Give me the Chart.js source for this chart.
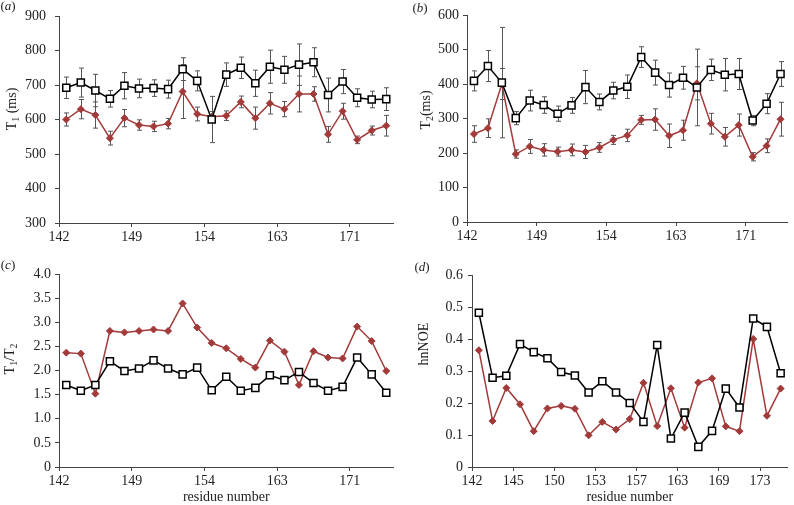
<!DOCTYPE html>
<html>
<head>
<meta charset="utf-8">
<script src="https://cdn.jsdelivr.net/npm/chart.js@4"></script>
<style>
  body { margin: 0; background: #fff; }
  #wrap { position: relative; width: 794px; height: 505px; overflow: hidden; }
  canvas { position: absolute; }
</style>
</head>
<body>
<div id="wrap">
  <canvas id="chartA" width="400" height="250" style="left:0;top:0"></canvas>
  <canvas id="chartB" width="399" height="250" style="left:395px;top:0"></canvas>
  <canvas id="chartC" width="400" height="255" style="left:0;top:250px"></canvas>
  <canvas id="chartD" width="399" height="255" style="left:395px;top:250px"></canvas>
</div>
<script>
// residue tick labels (placed on category boundaries)
const ticksABC = ['142', '149', '154', '163', '171'];
const ticksD = ['142', '145', '150', '153', '157', '163', '169', '173'];

// (a) T1 in ms, with error bars
const t1Black = [692, 707, 684, 660, 698, 690, 691, 688, 746, 712, 600, 730, 750, 705, 753, 744, 759, 766, 671, 710, 663, 658, 659];
const t1BlackErr = [31, 42, 47, 24, 38, 27, 24, 26, 33, 29, 67, 34, 31, 38, 48, 39, 60, 42, 49, 35, 26, 24, 33];
const t1Red = [600, 630, 613, 546, 604, 584, 580, 588, 681, 616, 608, 611, 651, 604, 647, 630, 674, 674, 557, 624, 541, 568, 582];
const t1RedErr = [19, 28, 38, 20, 25, 15, 15, 15, 78, 20, 15, 14, 17, 32, 31, 22, 52, 21, 23, 23, 11, 13, 30];

// (b) T2 in ms, with error bars
const t2Black = [409, 452, 404, 301, 352, 339, 314, 338, 391, 348, 381, 392, 478, 433, 397, 418, 390, 441, 427, 429, 294, 343, 429];
const t2BlackErr = [29, 45, 160, 19, 30, 24, 22, 23, 48, 23, 24, 34, 30, 36, 35, 33, 111, 31, 47, 45, 15, 29, 36];
const t2Red = [255, 272, 400, 197, 219, 209, 204, 209, 203, 216, 238, 251, 296, 297, 250, 266, 402, 285, 247, 281, 189, 221, 298];
const t2RedErr = [24, 27, 45, 12, 20, 18, 13, 17, 19, 14, 13, 18, 13, 31, 34, 29, 48, 30, 27, 32, 12, 20, 49];

// (c) T1/T2
const ratioBlack = [1.70, 1.58, 1.70, 2.19, 1.99, 2.04, 2.21, 2.04, 1.92, 2.06, 1.59, 1.87, 1.58, 1.64, 1.90, 1.80, 1.97, 1.74, 1.58, 1.66, 2.27, 1.92, 1.54];
const ratioRed = [2.37, 2.35, 1.52, 2.82, 2.79, 2.82, 2.85, 2.82, 3.39, 2.89, 2.57, 2.46, 2.24, 2.06, 2.62, 2.39, 1.70, 2.40, 2.27, 2.25, 2.91, 2.61, 1.99];

// (d) hnNOE
const noeBlack = [0.482, 0.279, 0.285, 0.384, 0.359, 0.340, 0.297, 0.286, 0.233, 0.268, 0.233, 0.200, 0.141, 0.381, 0.089, 0.170, 0.063, 0.113, 0.245, 0.186, 0.464, 0.438, 0.293];
const noeRed = [0.365, 0.144, 0.247, 0.196, 0.112, 0.183, 0.191, 0.182, 0.099, 0.141, 0.117, 0.150, 0.263, 0.128, 0.246, 0.123, 0.264, 0.277, 0.127, 0.112, 0.400, 0.160, 0.245];

const SERIF = "'Liberation Serif', 'Times New Roman', serif";
const RED = '#a23a3a';
const AXIS = '#444';
Chart.defaults.font.family = SERIF;
Chart.defaults.color = '#222';

// text made of parts: [text, style] where style is '', 'sub' or 'it'
function drawParts(ctx, parts, x, y, rot, size) {
  ctx.save();
  ctx.translate(x, y);
  ctx.rotate(rot);
  ctx.fillStyle = '#222';
  ctx.textBaseline = 'middle';
  const fontOf = s => (s === 'it' ? 'italic ' : '') + (s === 'sub' ? size * 0.7 : size) + 'px ' + SERIF;
  let total = 0;
  parts.forEach(([t, s]) => { ctx.font = fontOf(s); total += ctx.measureText(t).width; });
  let cx = -total / 2;
  parts.forEach(([t, s]) => {
    ctx.font = fontOf(s);
    ctx.fillText(t, cx, s === 'sub' ? size * 0.3 : 0);
    cx += ctx.measureText(t).width;
  });
  ctx.restore();
}

const decor = {
  id: 'decor',
  beforeDatasetsDraw(chart) {
    const { ctx, scales: { x, y } } = chart;
    ctx.save();
    ctx.strokeStyle = '#555';
    ctx.lineWidth = 1;
    chart.data.datasets.forEach(ds => {
      if (!ds.err) return;
      ds.data.forEach((p, i) => {
        const px = Math.round(x.getPixelForValue(p.x)) + 0.5;
        const top = y.getPixelForValue(p.y + ds.err[i]);
        const bot = y.getPixelForValue(p.y - ds.err[i]);
        ctx.beginPath();
        ctx.moveTo(px, top); ctx.lineTo(px, bot);
        ctx.moveTo(px - 2.5, top); ctx.lineTo(px + 2.5, top);
        ctx.moveTo(px - 2.5, bot); ctx.lineTo(px + 2.5, bot);
        ctx.stroke();
      });
    });
    ctx.restore();
  },
  afterDraw(chart) {
    const o = chart.options.plugins.decor;
    drawParts(chart.ctx, o.label, o.labelPos[0], o.labelPos[1], 0, 13);
    drawParts(chart.ctx, o.yTitle, o.yTitlePos[0], o.yTitlePos[1], -Math.PI / 2, 14);
  }
};

function makePanel(id, p) {
  const pts = arr => arr.map((v, i) => ({ x: i + 0.5, y: v }));
  const tickPos = p.ticks.map((_, k) => k * p.tickEvery);
  const canvas = document.getElementById(id);
  new Chart(canvas, {
    type: 'line',
    data: {
      datasets: [
        {
          data: pts(p.black), err: p.blackErr,
          borderColor: '#000', borderWidth: 1.5,
          pointStyle: 'rect', pointRadius: 5, pointBackgroundColor: '#fff',
          pointBorderColor: '#000', pointBorderWidth: 1.5
        },
        {
          data: pts(p.red), err: p.redErr,
          borderColor: RED, borderWidth: 1.5,
          pointStyle: 'rectRot', pointRadius: 3.5, pointBackgroundColor: RED,
          pointBorderColor: RED, pointBorderWidth: 1
        }
      ]
    },
    options: {
      responsive: false,
      animation: false,
      layout: { padding: { top: p.top, right: p.right, left: 0, bottom: 0 } },
      plugins: {
        legend: { display: false },
        tooltip: { enabled: false },
        decor: { label: p.label, labelPos: p.labelPos, yTitle: p.yTitle, yTitlePos: p.yTitlePos }
      },
      scales: {
        x: {
          type: 'linear', min: 0, max: p.black.length,
          afterBuildTicks: s => { s.ticks = tickPos.map(v => ({ value: v })); },
          afterFit: s => { s.height = canvas.height - p.bottom; s.paddingLeft = 0; s.paddingRight = 0; },
          grid: { drawOnChartArea: false, color: AXIS, tickLength: 4 },
          border: { color: AXIS, width: 1 },
          ticks: {
            autoSkip: false, maxRotation: 0, padding: 2,
            font: { size: 14 },
            callback: (v, i) => p.ticks[i]
          },
          title: {
            display: !!p.xTitle, text: p.xTitle,
            font: { size: 14, lineHeight: 1 }, padding: { top: 0, bottom: 1 }
          }
        },
        y: {
          min: p.yMin, max: p.yMax,
          afterFit: s => { s.width = p.left; s.paddingTop = 0; s.paddingBottom = 0; },
          grid: { drawOnChartArea: false, color: AXIS, tickLength: 4 },
          border: { color: AXIS, width: 1 },
          ticks: { stepSize: p.yStep, padding: p.yPad, font: { size: 14 }, callback: p.yFmt }
        }
      }
    },
    plugins: [decor]
  });
}

const oneDec = v => (v === 0 ? '0' : v.toFixed(1));

makePanel('chartA', {
  black: t1Black, blackErr: t1BlackErr, red: t1Red, redErr: t1RedErr,
  yMin: 300, yMax: 900, yStep: 100, yFmt: v => v, yPad: 9,
  ticks: ticksABC, tickEvery: 5,
  left: 59, top: 16, right: 1, bottom: 223,
  label: [['(', ''], ['a', 'it'], [')', '']], labelPos: [8, 7],
  yTitle: [['T', ''], ['1', 'sub'], [' (ms)', '']], yTitlePos: [12, 109]
});

makePanel('chartB', {
  black: t2Black, blackErr: t2BlackErr, red: t2Red, redErr: t2RedErr,
  yMin: 0, yMax: 600, yStep: 100, yFmt: v => v, yPad: 4,
  ticks: ticksABC, tickEvery: 5,
  left: 72, top: 15, right: 2, bottom: 222,
  label: [['(', ''], ['b', 'it'], [')', '']], labelPos: [25, 9],
  yTitle: [['T', ''], ['2', 'sub'], ['(ms)', '']], yTitlePos: [31, 110]
});

makePanel('chartC', {
  black: ratioBlack, red: ratioRed,
  yMin: 0, yMax: 4, yStep: 0.5, yFmt: oneDec, yPad: 4,
  ticks: ticksABC, tickEvery: 5, xTitle: 'residue number',
  left: 59, top: 24, right: 2, bottom: 217,
  label: [['(', ''], ['c', 'it'], [')', '']], labelPos: [8, 16],
  yTitle: [['T', ''], ['1', 'sub'], ['/T', ''], ['2', 'sub']], yTitlePos: [10, 109]
});

makePanel('chartD', {
  black: noeBlack, red: noeRed,
  yMin: 0, yMax: 0.6, yStep: 0.1, yFmt: oneDec, yPad: 5,
  ticks: ticksD, tickEvery: 3, xTitle: 'residue number',
  left: 77, top: 25, right: 2, bottom: 217,
  label: [['(', ''], ['d', 'it'], [')', '']], labelPos: [27, 18],
  yTitle: [['hnNOE', '']], yTitlePos: [29, 94]
});
</script>
</body>
</html>
